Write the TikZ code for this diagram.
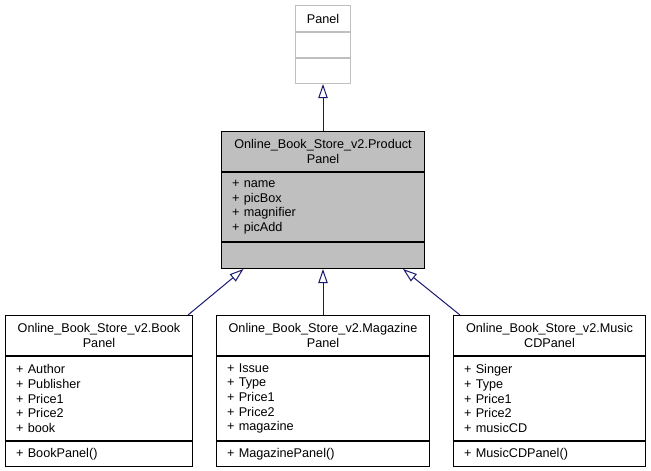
\documentclass[tikz,border=0pt]{standalone}
\usepackage{fontspec}
\setmainfont{Liberation Sans}
\usepackage{xcolor}
\usetikzlibrary{positioning,calc,arrows.meta}
\definecolor{boxgray}{HTML}{BFBFBF}
\definecolor{edgeblue}{HTML}{191970}
\tikzstyle{classbox} = [draw=black, fill=white, line width=0.75pt,
    rectangle, inner xsep=8pt, inner ysep=0pt, font=\fontsize{9.5}{11}\selectfont]
\tikzstyle{titlebox} = [classbox, align=center]
\tikzstyle{memberbox} = [classbox, align=left]
\tikzstyle{inherit} = [draw=edgeblue, line width=0.75pt,
    -{Triangle[open, length=10.5pt, width=7pt, fill=white]}]

\begin{document}
\begin{tikzpicture}[x=0.75pt,y=-0.75pt]
\useasboundingbox (0,0) rectangle (651,471);
% Panel
\node [titlebox, draw=boxgray, minimum width=41.25pt, minimum height=19.5pt, anchor=north west] (paneltitle) at (295,5) {Panel};
\node [classbox, draw=boxgray, minimum width=41.25pt, minimum height=18.75pt, below=0pt of paneltitle] (panelattr) {};
\node [classbox, draw=boxgray, minimum width=41.25pt, minimum height=18.75pt, below=0pt of panelattr] (panelops) {};
% ProductPanel
\node [titlebox, fill=boxgray, minimum width=152.25pt, minimum height=30pt, anchor=north west] (prodtitle) at (221,131) {Online\_Book\_Store\_v2.Product\\Panel};
\node [memberbox, fill=boxgray, text width=136.25pt, minimum height=51.75pt, below=0pt of prodtitle] (prodattr) {+ name\\+ picBox\\+ magnifier\\+ picAdd};
\node [memberbox, fill=boxgray, text width=136.25pt, minimum height=19.5pt, below=0pt of prodattr] (prodops) {};
% BookPanel
\node [titlebox, minimum width=140.25pt, minimum height=30pt, anchor=north west] (booktitle) at (5,315) {Online\_Book\_Store\_v2.Book\\Panel};
\node [memberbox, text width=124.25pt, minimum height=63pt, below=0pt of booktitle] (bookattr) {+ Author\\+ Publisher\\+ Price1\\+ Price2\\+ book};
\node [memberbox, text width=124.25pt, minimum height=18.75pt, below=0pt of bookattr] (bookops) {+ BookPanel()};
% MagazinePanel
\node [titlebox, minimum width=159.75pt, minimum height=30pt, anchor=north west] (magtitle) at (216,315) {Online\_Book\_Store\_v2.Magazine\\Panel};
\node [memberbox, text width=143.75pt, minimum height=63pt, below=0pt of magtitle] (magattr) {+ Issue\\+ Type\\+ Price1\\+ Price2\\+ magazine};
\node [memberbox, text width=143.75pt, minimum height=18.75pt, below=0pt of magattr] (magops) {+ MagazinePanel()};
% MusicCDPanel
\node [titlebox, minimum width=144pt, minimum height=30pt, anchor=north west] (musictitle) at (453,315) {Online\_Book\_Store\_v2.Music\\CDPanel};
\node [memberbox, text width=128pt, minimum height=63pt, below=0pt of musictitle] (musicattr) {+ Singer\\+ Type\\+ Price1\\+ Price2\\+ musicCD};
\node [memberbox, text width=128pt, minimum height=18.75pt, below=0pt of musicattr] (musicops) {+ MusicCDPanel()};
% inheritance
\draw [inherit] (prodtitle.north) -- (panelops.south);
\draw [inherit] ($(booktitle.north east)+(-5,0)$) -- ($(prodops.south)+(-79.5,0)$);
\draw [inherit] (magtitle.north) -- (prodops.south);
\draw [inherit] ($(musictitle.north west)+(7,0)$) -- ($(prodops.south)+(80,0)$);
\end{tikzpicture}
\end{document}
